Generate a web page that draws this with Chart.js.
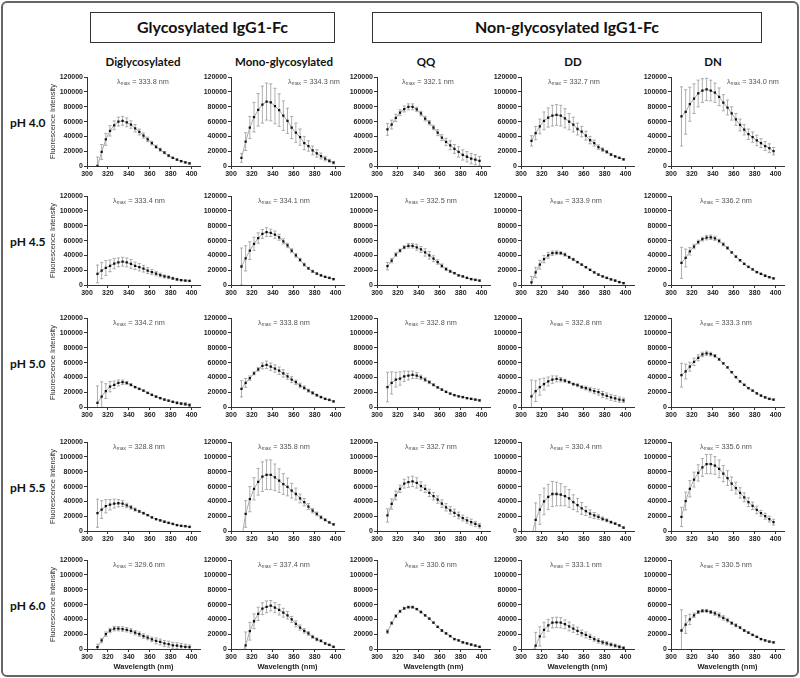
<!DOCTYPE html>
<html>
<head>
<meta charset="utf-8">
<script src="https://cdn.jsdelivr.net/npm/chart.js@4.4.1/dist/chart.umd.min.js"></script>
<style>
  html, body { margin: 0; padding: 0; background: #fff; }
  #fig { position: relative; width: 800px; height: 678px; overflow: hidden; font-family: 'Liberation Sans', Arial, sans-serif; }
  #frame { position: absolute; left: 1px; top: 1px; width: 794px; height: 672px; border: 2px solid #666; border-radius: 6px; }
  .head { position: absolute; top: 12px; height: 31px; box-sizing: border-box; border: 1.5px solid #333; background: #fff;
          font: bold 16px Lato, sans-serif; color: #111; text-align: center; line-height: 28px; }
  .coltitle { position: absolute; top: 55px; width: 140px; margin-left: -70px; text-align: center; font: bold 11.5px Lato, sans-serif; color: #111; }
  .ph { position: absolute; left: 10px; font: bold 12px Lato, sans-serif; color: #111; line-height: 14px; }
  .lam { position: absolute; font-size: 7.3px; color: #555; line-height: 8px; white-space: nowrap; }
  .lam sub { font-size: 5px; vertical-align: -1px; }
  canvas { position: absolute; }
</style>
</head>
<body>
<div id="fig">
  <div id="frame"></div>
  <div class="head" style="left:90px;width:245px;">Glycosylated IgG1-Fc</div>
  <div class="head" style="left:372px;width:390px;">Non-glycosylated IgG1-Fc</div>
</div>
<script>
// wavelengths (nm) and axis ticks
const wavelengths = [310, 314, 318, 322, 326, 330, 334, 338, 342, 346, 350, 354, 358, 362, 366, 370, 374, 378, 382, 386, 390, 394, 398];
const xTicks = [300, 320, 340, 360, 380, 400];
const yTicks = [0, 20000, 40000, 60000, 80000, 100000, 120000];
const columnTitles = ['Diglycosylated', 'Mono-glycosylated', 'QQ', 'DD', 'DN'];
const phLabels = ['pH 4.0', 'pH 4.5', 'pH 5.0', 'pH 5.5', 'pH 6.0'];

// lambda max per column, rows pH 4.0 .. 6.0
const lamDigly = ['333.8', '333.4', '334.2', '328.8', '329.6'];
const lamMono = ['334.3', '334.1', '333.8', '335.8', '337.4'];
const lamQQ = ['332.1', '332.5', '332.8', '332.7', '330.6'];
const lamDD = ['332.7', '333.9', '332.8', '330.4', '333.1'];
const lamDN = ['334.0', '336.2', '333.3', '335.6', '330.5'];

// pH 4.0
const digly40 = [0, 19000, 36000, 47500, 55000, 60000, 61000, 59000, 56000, 51000, 46000, 41000, 36000, 31000, 26000, 22000, 18000, 14000, 11000, 8500, 6500, 5000, 3500];
const digly40Err = [12000, 10000, 8000, 7000, 6000, 6000, 6000, 6000, 5000, 5000, 4000, 3500, 3000, 2500, 2000, 2000, 1500, 1500, 1000, 1000, 1000, 1000, 1000];
const mono40 = [11000, 33000, 52000, 66000, 76000, 83000, 87000, 86000, 81000, 75500, 68000, 61000, 52000, 45000, 39000, 31000, 27000, 21000, 17000, 13500, 10000, 7000, 4500];
const mono40Err = [6000, 12000, 15000, 20000, 22000, 25000, 25000, 25000, 24000, 22000, 20000, 17000, 15000, 13000, 11000, 9000, 7000, 6000, 5000, 4000, 3000, 2000, 1500];
const qq40 = [49500, 56000, 65000, 72000, 77000, 80000, 80000, 76500, 71000, 64000, 58500, 52000, 45000, 38500, 32500, 28000, 23000, 19000, 15000, 12500, 10000, 8500, 7000];
const qq40Err = [8000, 6000, 5000, 4000, 4000, 4000, 4000, 3000, 3000, 3000, 3000, 3000, 4000, 4000, 5000, 6000, 6000, 7000, 7000, 7000, 7000, 7000, 6000];
const dd40 = [34000, 44500, 53500, 61000, 65500, 68000, 69000, 68000, 64500, 60000, 56000, 50000, 46500, 41000, 35000, 31000, 25500, 22000, 19000, 15500, 13000, 11000, 9000];
const dd40Err = [7000, 9000, 10000, 12000, 13000, 14000, 14000, 14000, 13000, 11000, 10000, 8000, 7000, 6000, 5000, 4000, 3000, 2500, 2000, 1500, 1000, 1000, 1000];
const dn40 = [67000, 73000, 83500, 91000, 98000, 102000, 103500, 102000, 99000, 93500, 85500, 79000, 71000, 63000, 55500, 49000, 43000, 39000, 34500, 31000, 27000, 24000, 20000];
const dn40Err = [40000, 30000, 23000, 20000, 18000, 16000, 15000, 14000, 13000, 12000, 11000, 10000, 9000, 8000, 8000, 7000, 7000, 7000, 7000, 6000, 6000, 6000, 5000];

// pH 4.5
const digly45 = [15000, 19500, 23000, 26000, 29000, 30500, 31500, 30500, 28500, 26000, 24000, 22000, 19500, 17500, 15500, 13500, 11500, 10500, 9000, 7500, 6500, 6000, 5500];
const digly45Err = [12000, 11000, 10000, 8000, 7000, 6000, 6000, 6000, 6000, 5000, 5000, 4500, 4000, 3500, 3000, 2500, 2000, 2000, 1500, 1500, 1000, 1000, 1000];
const mono45 = [25000, 36000, 46500, 55500, 63500, 69000, 71500, 70500, 68000, 64500, 59000, 53500, 46500, 40000, 34000, 27500, 22500, 18500, 15500, 13000, 11000, 9500, 8000];
const mono45Err = [25000, 17000, 12000, 9000, 7000, 6000, 6000, 5000, 5000, 4000, 3500, 3000, 2500, 2500, 2000, 2000, 1500, 1500, 1000, 1000, 1000, 1000, 1000];
const qq45 = [25500, 33000, 41000, 46500, 51000, 53000, 53000, 51000, 48000, 44000, 40000, 35500, 31000, 26000, 21500, 18500, 16000, 13000, 11500, 9500, 8000, 7000, 6000];
const qq45Err = [5000, 3000, 2500, 2000, 2000, 3000, 3000, 4000, 4000, 5000, 5000, 4000, 3000, 2500, 2000, 1500, 1000, 1000, 1000, 1000, 1000, 1000, 1000];
const dd45 = [3500, 17000, 27500, 35000, 40000, 43000, 43500, 43000, 41000, 37500, 34500, 31000, 27500, 24000, 20500, 17000, 14000, 11500, 9500, 7500, 6000, 4000, 2500];
const dd45Err = [8000, 7000, 6000, 5000, 4000, 3000, 2500, 2000, 2000, 1500, 1500, 1000, 1000, 1000, 1000, 1000, 1000, 1000, 1000, 1000, 1000, 1000, 1000];
const dn45 = [30000, 36500, 45500, 52000, 58000, 62000, 64000, 64500, 63000, 59500, 55000, 50000, 44000, 38500, 33500, 28500, 24500, 21000, 17500, 15000, 12500, 10500, 9000];
const dn45Err = [21000, 12000, 5000, 3000, 2500, 2500, 3000, 3000, 3000, 2500, 2000, 1500, 1000, 1000, 1000, 1000, 1000, 1000, 1000, 1000, 1000, 1000, 1000];

// pH 5.0
const digly50 = [5500, 14000, 21500, 27500, 30000, 32500, 33500, 32500, 30000, 27000, 24500, 22000, 19000, 16500, 14000, 12000, 10000, 8500, 7000, 5500, 4500, 4000, 2500];
const digly50Err = [23000, 20000, 10000, 7000, 5000, 4000, 3000, 2000, 1500, 1000, 1000, 1000, 1000, 1000, 1000, 1000, 1000, 1000, 1000, 1500, 1500, 2000, 2000];
const mono50 = [24500, 32500, 39000, 45500, 51000, 55500, 57000, 54500, 52000, 49000, 45500, 41500, 37000, 33500, 29000, 26000, 22000, 19000, 16000, 13500, 11000, 9500, 7500];
const mono50Err = [11000, 6000, 3000, 2000, 2500, 4000, 5000, 5000, 5000, 5000, 5000, 4000, 4000, 3000, 3000, 2500, 2000, 2000, 1500, 1000, 1000, 1000, 1000];
const qq50 = [27000, 32500, 37000, 38500, 41500, 42500, 43500, 42500, 40000, 37000, 33500, 30000, 26500, 23500, 20500, 18000, 16000, 14500, 13500, 12000, 11000, 10000, 9000];
const qq50Err = [20000, 15000, 10000, 9000, 7000, 6000, 5000, 4000, 3000, 2500, 2000, 1500, 1000, 1000, 1000, 1000, 1000, 1000, 1000, 1000, 1000, 1000, 1000];
const dd50 = [14500, 21500, 27000, 31000, 34500, 37000, 38000, 37000, 35500, 33500, 31000, 29500, 27000, 25500, 23500, 21500, 20000, 17000, 15000, 13000, 11500, 10000, 9000];
const dd50Err = [22000, 14000, 11000, 8000, 6000, 5000, 4000, 3000, 2000, 1500, 1500, 2000, 2000, 2500, 3000, 3500, 4000, 4000, 4000, 4000, 4000, 3500, 3000];
const dn50 = [43000, 48000, 54500, 61000, 66500, 71000, 72500, 71500, 69000, 64500, 59000, 53500, 47000, 40500, 34500, 30000, 25500, 22000, 18500, 15500, 13000, 11000, 10000];
const dn50Err = [16000, 10000, 6000, 5000, 4000, 3000, 3000, 2500, 2000, 1500, 1000, 1000, 1000, 1000, 1000, 1000, 1000, 1000, 1000, 1000, 1000, 1000, 1000];

// pH 5.5
const digly55 = [24000, 29000, 33500, 35500, 37000, 37500, 37000, 34500, 32000, 29000, 26500, 24000, 21500, 18500, 16000, 14500, 12500, 11000, 9500, 8000, 7000, 6500, 5500];
const digly55Err = [19000, 12000, 9000, 7000, 6000, 5000, 4000, 3000, 2500, 2000, 1500, 1500, 1000, 1000, 1000, 1000, 1000, 1000, 1000, 1000, 1000, 1000, 1000];
const mono55 = [-12000, 23000, 43000, 57000, 66500, 73500, 76000, 76000, 72500, 68000, 63500, 59500, 54500, 50000, 44000, 39000, 33000, 27500, 23000, 18500, 15000, 11500, 9000];
const mono55Err = [0, 18000, 17000, 15000, 18000, 20000, 20000, 20000, 18000, 16000, 14000, 12000, 10000, 8000, 6000, 5000, 4000, 3000, 2500, 2000, 1500, 1000, 1000];
const qq55 = [21000, 36500, 48000, 57000, 64000, 66000, 67000, 65000, 60500, 57000, 51500, 47000, 42500, 37000, 32000, 28000, 24500, 21000, 17500, 14500, 12000, 9500, 7000];
const qq55Err = [9000, 7000, 6000, 5000, 6000, 7000, 7000, 7000, 6000, 5000, 5000, 5000, 5000, 5000, 5000, 5000, 5000, 4500, 4000, 4000, 4000, 3500, 3000];
const dd55 = [-8000, 15000, 29000, 40000, 46000, 50000, 50000, 49000, 47000, 44000, 39000, 35000, 30500, 27000, 23500, 21000, 19000, 16500, 14500, 12000, 10000, 7500, 4500];
const dd55Err = [0, 23000, 20000, 18000, 17000, 17000, 16000, 15000, 13000, 12000, 10000, 9000, 8000, 6000, 5000, 4000, 3000, 2500, 2000, 1500, 1000, 1000, 1000];
const dn55 = [19000, 40500, 57000, 69500, 78500, 86000, 90500, 90500, 88500, 84000, 77500, 71500, 64000, 58000, 51500, 45500, 39000, 34000, 28500, 24000, 20000, 16000, 12000];
const dn55Err = [13000, 12000, 11000, 10000, 11000, 12000, 13000, 13000, 12000, 12000, 11000, 10000, 9000, 8000, 7000, 6000, 6000, 5000, 5000, 4000, 4000, 4000, 4000];

// pH 6.0
const digly60 = [2500, 11500, 20000, 25000, 27500, 27500, 27000, 26000, 24500, 22000, 20000, 17500, 15500, 13000, 11000, 9500, 7500, 6500, 5000, 4500, 3500, 3000, 2500];
const digly60Err = [4000, 3000, 3000, 3000, 3000, 3000, 3000, 3000, 3000, 3000, 3000, 3000, 3000, 3000, 4000, 4000, 4000, 4000, 4000, 4000, 4000, 3500, 3000];
const mono60 = [-8000, 5000, 24000, 37500, 47500, 54500, 57000, 58500, 56000, 53000, 49000, 45500, 40000, 34000, 29000, 24500, 21000, 16500, 13000, 11000, 7500, 5500, 3000];
const mono60Err = [0, 18000, 12000, 10000, 9000, 8000, 8000, 7000, 7000, 7000, 6000, 5000, 4000, 4000, 3500, 3000, 2500, 2000, 2000, 1500, 1500, 1000, 1000];
const qq60 = [23500, 35000, 44500, 51000, 55000, 56500, 56500, 54000, 50000, 45500, 41000, 35500, 30000, 25000, 21000, 17500, 13500, 11500, 9000, 7500, 6000, 4500, 3000];
const qq60Err = [2500, 2000, 2000, 1500, 1500, 1500, 1500, 1000, 1000, 1000, 1000, 1000, 1000, 1000, 1000, 1000, 1000, 1000, 1000, 1000, 1000, 1000, 1000];
const dd60 = [-5000, 4500, 17000, 26000, 32000, 35500, 36000, 35500, 33500, 30500, 27500, 24500, 21500, 19000, 16500, 13500, 11000, 9000, 7500, 6000, 4500, 3000, 1500];
const dd60Err = [0, 18000, 13000, 10000, 8000, 7000, 7000, 7000, 6000, 6000, 5000, 5000, 4000, 4000, 3500, 3000, 3000, 2500, 2500, 2000, 2000, 2000, 1500];
const dn60 = [25000, 33000, 40000, 45500, 50000, 51500, 51500, 50000, 48000, 45500, 42000, 39000, 35000, 32000, 29000, 25000, 22000, 19000, 16500, 13500, 11500, 10000, 9000];
const dn60Err = [28000, 12000, 7000, 3000, 2000, 2000, 2000, 2000, 2500, 3000, 3000, 2500, 2000, 2000, 1500, 1000, 1000, 1000, 1000, 1000, 1000, 1000, 1000];

// grid of panels [row][col]
const panels = [
  [[digly40, digly40Err], [mono40, mono40Err], [qq40, qq40Err], [dd40, dd40Err], [dn40, dn40Err]],
  [[digly45, digly45Err], [mono45, mono45Err], [qq45, qq45Err], [dd45, dd45Err], [dn45, dn45Err]],
  [[digly50, digly50Err], [mono50, mono50Err], [qq50, qq50Err], [dd50, dd50Err], [dn50, dn50Err]],
  [[digly55, digly55Err], [mono55, mono55Err], [qq55, qq55Err], [dd55, dd55Err], [dn55, dn55Err]],
  [[digly60, digly60Err], [mono60, mono60Err], [qq60, qq60Err], [dd60, dd60Err], [dn60, dn60Err]]
];
const lambdas = [lamDigly, lamMono, lamQQ, lamDD, lamDN];

// layout (pixels)
const colX = [87, 231, 377, 521, 671];      // x pixel of 300 nm
const rowTop = [77, 196, 318, 442, 560];    // y pixel of 120000
const colTitleX = [143, 284, 426, 573, 713];
const lamLeft = [[117, 288, 402, 548, 727], [113, 258, 405, 550, 700]];
const plotW = 113, plotH = 89, axisW = 40, padTop = 5, padRight = 8;
const FONT = "'Liberation Sans', Arial, sans-serif";

const fig = document.getElementById('fig');

// vertical error bars with caps, drawn under the line and points
const errorBars = {
  id: 'errorBars',
  beforeDatasetsDraw(chart) {
    const { ctx, chartArea: a, scales: { x, y } } = chart;
    const ds = chart.data.datasets[0];
    ctx.save();
    ctx.beginPath();
    ctx.rect(a.left, a.top - 1, a.right - a.left, a.bottom - a.top + 1);
    ctx.clip();
    ctx.strokeStyle = '#9a9a9a';
    ctx.lineWidth = 0.8;
    ds.data.forEach((p, i) => {
      const e = ds.errors[i];
      if (!e) return;
      const px = x.getPixelForValue(p.x);
      const y1 = y.getPixelForValue(p.y - e);
      const y2 = y.getPixelForValue(p.y + e);
      ctx.beginPath();
      ctx.moveTo(px, y1); ctx.lineTo(px, y2);
      ctx.moveTo(px - 1.6, y1); ctx.lineTo(px + 1.6, y1);
      ctx.moveTo(px - 1.6, y2); ctx.lineTo(px + 1.6, y2);
      ctx.stroke();
    });
    ctx.restore();
  }
};

columnTitles.forEach((t, c) => {
  const d = document.createElement('div');
  d.className = 'coltitle';
  d.style.left = colTitleX[c] + 'px';
  d.textContent = t;
  fig.appendChild(d);
});

phLabels.forEach((t, r) => {
  const d = document.createElement('div');
  d.className = 'ph';
  d.style.top = (rowTop[r] + 39) + 'px';
  d.textContent = t;
  fig.appendChild(d);
});

panels.forEach((row, r) => {
  row.forEach(([means, errs], c) => {
    const bottomRow = r === panels.length - 1;
    const xh = bottomRow ? 24 : 14;
    const canvas = document.createElement('canvas');
    const w = axisW + plotW + padRight;
    const h = padTop + plotH + xh;
    canvas.width = w; canvas.height = h;
    canvas.style.left = (colX[c] - axisW) + 'px';
    canvas.style.top = (rowTop[r] - padTop) + 'px';
    canvas.style.width = w + 'px'; canvas.style.height = h + 'px';
    fig.appendChild(canvas);

    new Chart(canvas.getContext('2d'), {
      type: 'line',
      data: {
        datasets: [{
          data: wavelengths.map((wl, i) => ({ x: wl, y: means[i] })),
          errors: errs,
          borderColor: '#aaaaaa',
          borderWidth: 1,
          pointStyle: 'rect',
          pointRadius: 1.6,
          pointBackgroundColor: '#111',
          pointBorderWidth: 0,
          tension: 0
        }]
      },
      options: {
        responsive: false,
        animation: false,
        devicePixelRatio: 1,
        events: [],
        layout: { padding: { top: padTop, right: padRight, left: 0, bottom: 0 } },
        plugins: { legend: { display: false }, tooltip: { enabled: false } },
        scales: {
          x: {
            type: 'linear', min: 300, max: 408,
            afterBuildTicks: s => { s.ticks = xTicks.map(v => ({ value: v })); },
            afterFit: s => { s.height = xh; },
            grid: { drawOnChartArea: false, drawTicks: true, tickLength: 3, color: '#333' },
            border: { color: '#333', width: 1 },
            ticks: { font: { family: FONT, size: 7, weight: 'bold' }, color: '#222', padding: 1, maxRotation: 0, autoSkip: false },
            title: {
              display: bottomRow, text: 'Wavelength (nm)', color: '#222',
              font: { family: FONT, size: 7.5, weight: 'bold' }, padding: { top: 0, bottom: 2 }
            }
          },
          y: {
            type: 'linear', min: 0, max: 120000,
            afterBuildTicks: s => { s.ticks = yTicks.map(v => ({ value: v })); },
            afterFit: s => { s.width = axisW; },
            grid: { drawOnChartArea: false, drawTicks: true, tickLength: 3, color: '#333' },
            border: { color: '#333', width: 1 },
            ticks: { font: { family: FONT, size: 7, weight: 'bold' }, color: '#222', padding: 1, autoSkip: false,
                     callback: v => String(v) },
            title: {
              display: c === 0, text: 'Fluorescence Intensity', color: '#333',
              font: { family: FONT, size: 7.5 }, padding: { top: 1, bottom: 0 }
            }
          }
        }
      },
      plugins: [errorBars]
    });

    const lam = document.createElement('div');
    lam.className = 'lam';
    lam.style.left = lamLeft[r === 0 ? 0 : 1][c] + 'px';
    lam.style.top = (rowTop[r] + 1) + 'px';
    lam.innerHTML = '\u03bb<sub>max</sub> = ' + lambdas[c][r] + ' nm';
    fig.appendChild(lam);
  });
});
</script>
</body>
</html>
